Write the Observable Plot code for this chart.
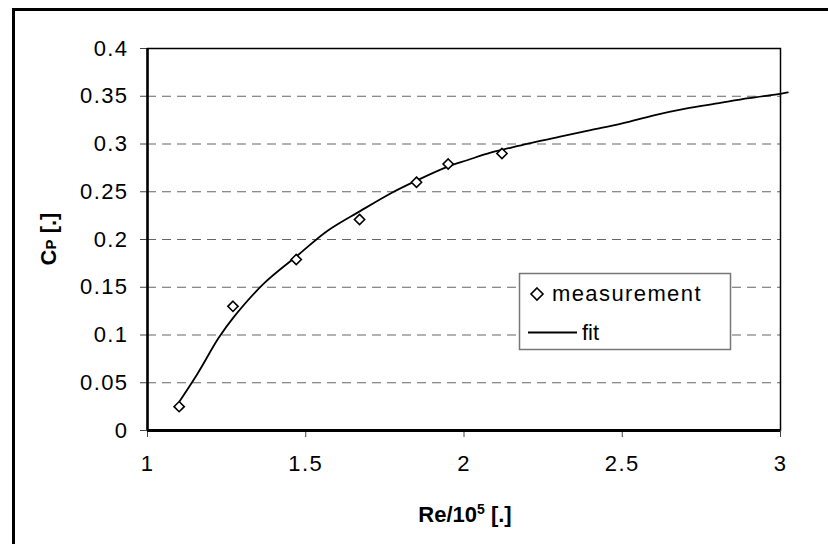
<!DOCTYPE html>
<html>
<head>
<meta charset="utf-8">
<script src="https://cdn.jsdelivr.net/npm/d3@7"></script>
<script src="https://cdn.jsdelivr.net/npm/@observablehq/plot@0.6"></script>
<style>
  html, body { margin: 0; padding: 0; background: #fff; }
  #chart { position: relative; width: 828px; height: 544px; overflow: hidden; }
  svg { display: block; }
</style>
</head>
<body>
<div id="chart"></div>
<script>
// Measured points
const measX = [1.10, 1.27, 1.47, 1.67, 1.85, 1.95, 2.12];
const measY = [0.025, 0.130, 0.179, 0.221, 0.260, 0.279, 0.290];

// Fit curve
const fitX = [1.102, 1.157, 1.225, 1.273, 1.368, 1.473, 1.568, 1.673, 1.778, 1.852, 1.947, 2.010, 2.084, 2.147, 2.210, 2.300, 2.400, 2.500, 2.600, 2.700, 2.800, 2.900, 3.000, 3.023];
const fitY = [0.031, 0.059, 0.097, 0.119, 0.154, 0.183, 0.209, 0.230, 0.250, 0.262, 0.276, 0.283, 0.291, 0.296, 0.301, 0.3075, 0.3145, 0.3215, 0.330, 0.337, 0.3425, 0.348, 0.3525, 0.354];

// Ticks
const xTicks = [1, 1.5, 2, 2.5, 3];
const yTicks = [0, 0.05, 0.1, 0.15, 0.2, 0.25, 0.3, 0.35, 0.4];
const gridTicks = [0.05, 0.1, 0.15, 0.2, 0.25, 0.3, 0.35];

// Labels
const seriesNames = ["measurement", "fit"];

const meas = measX.map((x, i) => ({x, y: measY[i]}));
const fit = fitX.map((x, i) => ({x, y: fitY[i]}));

const FONT = "'Liberation Sans', Arial, sans-serif";
const FS = 22;
const LS = "1.4px";

const svg = Plot.plot({
  width: 828,
  height: 544,
  marginLeft: 147,
  marginRight: 48,
  marginTop: 48,
  marginBottom: 114,
  style: {fontFamily: FONT, fontSize: FS + "px", color: "#000", background: "transparent", overflow: "visible"},
  x: {domain: [1, 3]},
  y: {domain: [0, 0.4]},
  marks: [
    Plot.ruleY(gridTicks, {stroke: "#666", strokeWidth: 1.2, strokeDasharray: "9,6"}),
    Plot.frame({stroke: "#000", strokeWidth: 1.5}),
    Plot.axisY({ticks: yTicks, tickSize: 7, tickPadding: 12, fontSize: FS, tickFormat: d => String(+d.toFixed(2)), label: null, stroke: "#444"}),
    Plot.axisX({ticks: xTicks, tickSize: 7, tickPadding: 18, fontSize: FS, tickFormat: d => String(d), label: null, stroke: "#444"}),
    Plot.ruleX([1], {stroke: "#000", strokeWidth: 2.5}),
    Plot.ruleY([0], {stroke: "#000", strokeWidth: 3}),
    Plot.line(fit, {x: "x", y: "y", stroke: "#000", strokeWidth: 1.8, curve: "catmull-rom"}),
    Plot.dot(meas, {x: "x", y: "y", symbol: "diamond2", r: 4.6, stroke: "#000", fill: "#fff", strokeWidth: 1.6})
  ]
});

document.getElementById("chart").appendChild(svg);

const s = d3.select(svg);
// Force the axis tick label font (Plot's own text elements)
s.selectAll("g").filter(function() { return this.querySelector(":scope > text"); })
  .attr("font-size", FS).style("font-size", FS + "px")
  .style("letter-spacing", LS).style("font-family", FONT);
s.selectAll("text").style("font-size", FS + "px").style("letter-spacing", LS).style("font-family", FONT);

// Outer border
s.append("rect")
  .attr("x", 13.5).attr("y", 9.5).attr("width", 840).attr("height", 560)
  .attr("fill", "none").attr("stroke", "#000").attr("stroke-width", 3);

// X title
const xt = s.append("text")
  .attr("x", 465).attr("y", 522)
  .attr("text-anchor", "middle")
  .attr("font-family", FONT).attr("font-size", FS).attr("font-weight", "bold");
xt.append("tspan").text("Re/10");
xt.append("tspan").attr("font-size", 14).attr("dy", -8).text("5");
xt.append("tspan").attr("dy", 8).text(" [.]");

// Y title
const yt = s.append("text")
  .attr("transform", "translate(56,239) rotate(-90)")
  .attr("text-anchor", "middle")
  .attr("font-family", FONT).attr("font-size", FS).attr("font-weight", "bold");
yt.append("tspan").text("C");
yt.append("tspan").attr("font-size", 15).text("P");
yt.append("tspan").text(" [.]");

// Legend
const lg = s.append("g");
lg.append("rect")
  .attr("x", 519.5).attr("y", 273.5).attr("width", 211).attr("height", 76)
  .attr("fill", "#fff").attr("stroke", "#777").attr("stroke-width", 1.5);
lg.append("path")
  .attr("d", "M537,288 L543,294 L537,300 L531,294 Z")
  .attr("fill", "#fff").attr("stroke", "#000").attr("stroke-width", 1.6);
lg.append("text")
  .attr("x", 552).attr("y", 301)
  .attr("text-anchor", "start")
  .attr("font-family", FONT).attr("font-size", FS)
  .style("letter-spacing", LS)
  .text(seriesNames[0]);
lg.append("line")
  .attr("x1", 528).attr("x2", 577).attr("y1", 332.5).attr("y2", 332.5)
  .attr("stroke", "#000").attr("stroke-width", 1.8);
lg.append("text")
  .attr("x", 582).attr("y", 340)
  .attr("text-anchor", "start")
  .attr("font-family", FONT).attr("font-size", FS)
  .text(seriesNames[1]);
</script>
</body>
</html>
